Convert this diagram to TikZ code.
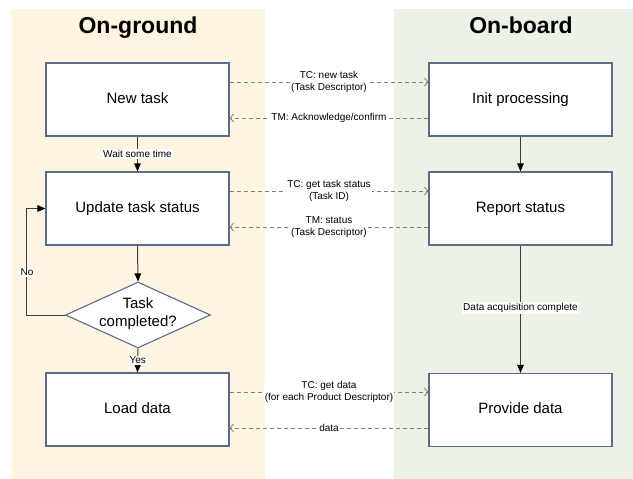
\documentclass[tikz,border=0pt]{standalone}
\usepackage{fontspec}
\setmainfont{Liberation Sans}
\usetikzlibrary{shapes.geometric,arrows.meta}
\definecolor{groundbg}{HTML}{FDF5E2}
\definecolor{boardbg}{HTML}{EDF2E6}
\definecolor{boxline}{HTML}{5C6B8A}
\definecolor{dashgray}{HTML}{808080}
\definecolor{flowline}{HTML}{3A3A3A}
\tikzset{
  box/.style={draw=boxline, line width=1.1pt, fill=white, minimum width=183, minimum height=73,
    inner sep=0, text height=10.8pt, text depth=3.1pt, font=\fontsize{15}{18}\selectfont},
  flow/.style={draw=flowline, line width=1pt, -{Triangle[length=8pt,width=6.5pt,color=black]}},
  msg/.style={draw=dashgray, line width=0.8pt, dash pattern=on 4pt off 3pt,
    -{Straight Barb[length=3.5pt,width=8pt]}},
  lbl/.style={fill=white, inner sep=1pt, font=\fontsize{10}{12.5}\selectfont, align=center, text=black},
  header/.style={font=\bfseries\fontsize{23}{27}\selectfont, anchor=base},
}
\begin{document}
\begin{tikzpicture}[x=1pt,y=-1pt]
\useasboundingbox (0,0) rectangle (633,479);
% lanes
\fill[groundbg] (11,9) rectangle (265,479);
\fill[boardbg] (394,9) rectangle (633,479);
\node[header] (hg) at (138,33) {On-ground};
\node[header] (hb) at (521,33) {On-board};
% on-ground
\node[box] (nt) at (137.5,99.5) {New task};
\node[box] (ut) at (137.5,208.5) {Update task status};
\node[diamond, draw=boxline, line width=1.1pt, fill=white, aspect=2.2,
      minimum width=145, minimum height=66, inner sep=0] (dec) at (138,315) {};
\node[align=center, font=\fontsize{15}{18}\selectfont, inner sep=0] (dectxt) at (138,314) {Task\\completed?};
\node[box] (ld) at (137.5,409.5) {Load data};
% on-board
\node[box] (ip) at (520.5,99.5) {Init processing};
\node[box] (rs) at (520.5,208.5) {Report status};
\node[box] (pd) at (520.5,410) {Provide data};
% flow
\draw[flow] (nt.south) -- node[lbl]{Wait some time} (ut.north);
\draw[flow] (ut.south) -- (dec.north);
\draw[flow] (dec.south) -- node[lbl]{Yes} (ld.north);
\draw[flow] (dec.west) -- ++(-38,0) |- node[lbl,pos=0.2]{No} (ut.west);
\draw[flow] (ip.south) -- (rs.north);
\draw[flow] (rs.south) -- node[lbl,pos=0.49]{Data acquisition complete} (pd.north);
% messages
\draw[msg] ([yshift=17.5pt]nt.east) -- node[lbl]{TC: new task\\(Task Descriptor)} ([yshift=17.5pt]ip.west);
\draw[msg] ([yshift=-18.5pt]ip.west) -- node[lbl]{TM: Acknowledge/confirm} ([yshift=-18.5pt]nt.east);
\draw[msg] ([yshift=17.5pt]ut.east) -- node[lbl]{TC: get task status\\(Task ID)} ([yshift=17.5pt]rs.west);
\draw[msg] ([yshift=-18.5pt]rs.west) -- node[lbl]{TM: status\\(Task Descriptor)} ([yshift=-18.5pt]ut.east);
\draw[msg] ([yshift=17.5pt]ld.east) -- node[lbl]{TC: get data\\(for each Product Descriptor)} ([yshift=17.5pt]ld.east -| pd.west);
\draw[msg] ([yshift=-18.5pt]ld.east -| pd.west) -- node[lbl]{data} ([yshift=-18.5pt]ld.east);
\end{tikzpicture}
\end{document}
